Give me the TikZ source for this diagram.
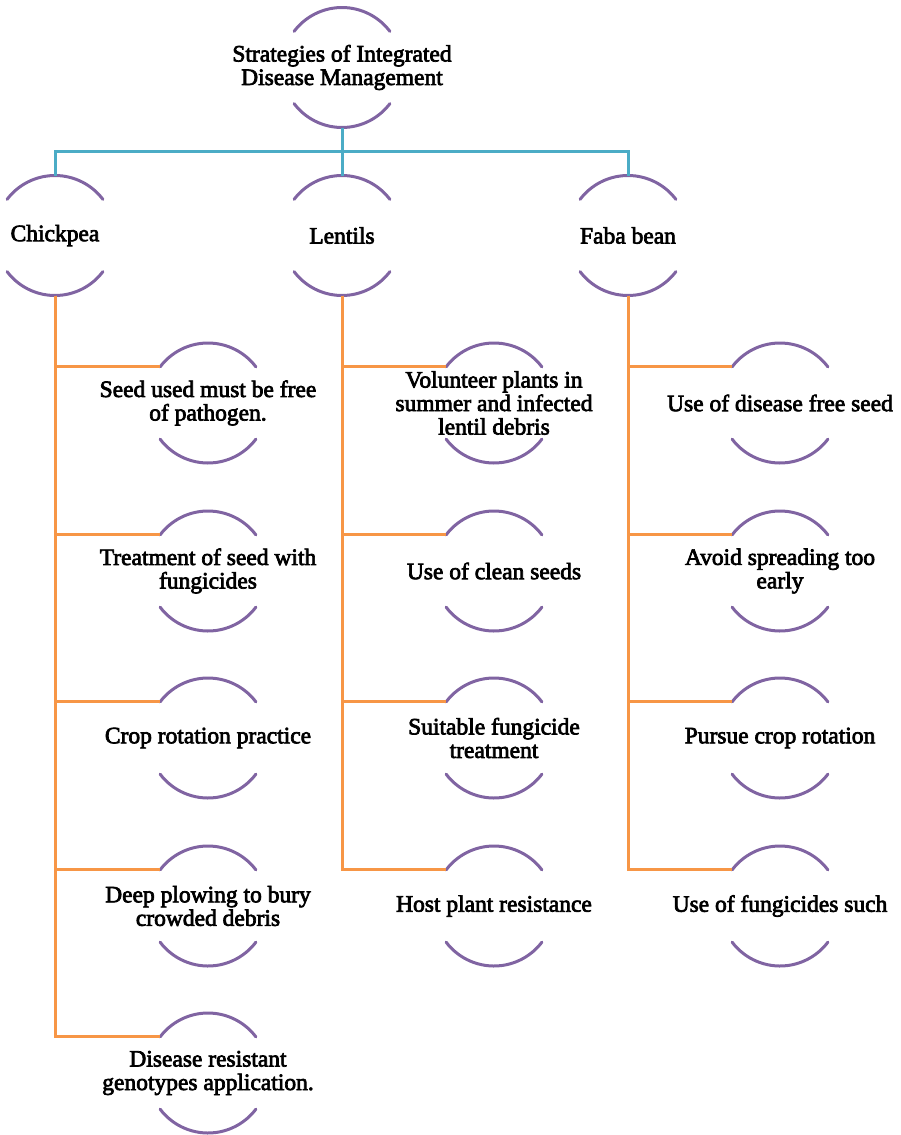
\documentclass[tikz,border=0pt]{standalone}
\usepackage{fontspec}
\setmainfont{Liberation Serif}[FakeBold=3]
\definecolor{arcpurple}{HTML}{8064A2}
\definecolor{trunkorange}{HTML}{F79646}
\definecolor{busblue}{HTML}{4BACC6}
\tikzset{
  ring/.style={circle, minimum size=120pt, inner sep=0pt, outer sep=0pt},
  lbl/.style={align=center, inner sep=0pt, font=\fontsize{23.5}{23.5}\selectfont},
  arcline/.style={draw=arcpurple, line width=3pt, line cap=round},
  orangeline/.style={draw=trunkorange, line width=3pt},
  blueline/.style={draw=busblue, line width=3pt},
}
\begin{document}
\begin{tikzpicture}[x=1pt,y=1pt]
\useasboundingbox (0,0) rectangle (900,-1135);
% ring nodes
\node[ring] (top) at (342,-67.5) {};
\node[ring] (chick) at (55,-235.5) {};
\node[ring] (lent) at (342,-235.5) {};
\node[ring] (faba) at (628,-235.5) {};
\node[ring] (c1) at (208,-403) {};
\node[ring] (c2) at (208,-571) {};
\node[ring] (c3) at (208,-738) {};
\node[ring] (c4) at (208,-906) {};
\node[ring] (c5) at (208,-1073) {};
\node[ring] (l1) at (494,-403) {};
\node[ring] (l2) at (494,-571) {};
\node[ring] (l3) at (494,-738) {};
\node[ring] (l4) at (494,-906) {};
\node[ring] (f1) at (780,-403) {};
\node[ring] (f2) at (780,-571) {};
\node[ring] (f3) at (780,-738) {};
\node[ring] (f4) at (780,-906) {};
% arcs
\foreach \n in {top,chick,lent,faba,c1,c2,c3,c4,c5,l1,l2,l3,l4,f1,f2,f3,f4}{
  \draw[arcline] (\n.143) arc (143:37:60pt);
  \draw[arcline] (\n.217) arc (217:323:60pt);
}
% labels
\node[lbl] (top-t) at (top) {Strategies of Integrated\\Disease Management};
\node[lbl] (chick-t) at (chick) {Chickpea};
\node[lbl] (lent-t) at (lent) {Lentils};
\node[lbl] (faba-t) at (faba) {Faba bean};
\node[lbl] (c1-t) at (c1) {Seed used must be free\\of pathogen.};
\node[lbl] (c2-t) at (c2) {Treatment of seed with\\fungicides};
\node[lbl] (c3-t) at (c3) {Crop rotation practice};
\node[lbl] (c4-t) at (c4) {Deep plowing to bury\\crowded debris};
\node[lbl] (c5-t) at (c5) {Disease resistant\\genotypes application.};
\node[lbl] (l1-t) at (l1) {Volunteer plants in\\summer and infected\\lentil debris};
\node[lbl] (l2-t) at (l2) {Use of clean seeds};
\node[lbl] (l3-t) at (l3) {Suitable fungicide\\treatment};
\node[lbl] (l4-t) at (l4) {Host plant resistance};
\node[lbl] (f1-t) at (f1) {Use of disease free seed};
\node[lbl] (f2-t) at (f2) {Avoid spreading too\\early};
\node[lbl] (f3-t) at (f3) {Pursue crop rotation};
\node[lbl] (f4-t) at (f4) {Use of fungicides such};
% blue connectors
\coordinate (bus) at ([yshift=-24pt]top.south);
\draw[blueline] (top.south) -- (lent.north);
\draw[blueline] (bus) -| (chick.north);
\draw[blueline] (bus) -| (faba.north);
% orange connectors
\foreach \p/\c in {chick/c1,chick/c2,chick/c3,chick/c4,chick/c5,lent/l1,lent/l2,lent/l3,lent/l4,faba/f1,faba/f2,faba/f3,faba/f4}{
  \draw[orangeline] (\p.south) |- (\c.143);
}
\end{tikzpicture}
\end{document}
